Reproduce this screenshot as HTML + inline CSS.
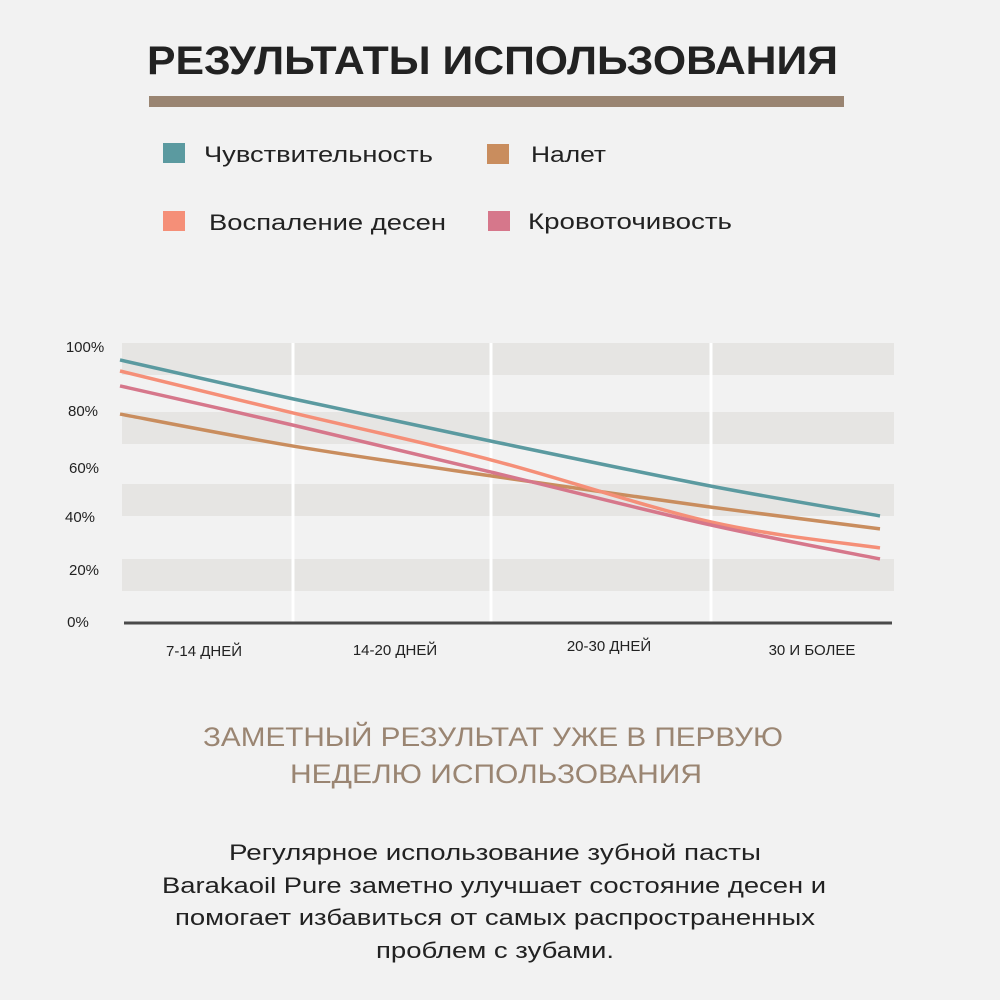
<!DOCTYPE html>
<html><head><meta charset="utf-8"><style>
html,body{margin:0;padding:0;background:#f2f2f2;}
svg{display:block;font-family:"Liberation Sans","DejaVu Sans",sans-serif;}
</style></head><body>
<svg id="chart" width="1000" height="1000" viewBox="0 0 1000 1000" xmlns="http://www.w3.org/2000/svg">
<rect x="0" y="0" width="1000" height="1000" fill="#f2f2f2"/>
<text x="147" y="74" font-size="40" font-weight="bold" fill="#222" textLength="691" lengthAdjust="spacingAndGlyphs">РЕЗУЛЬТАТЫ ИСПОЛЬЗОВАНИЯ</text>
<rect x="149" y="96" width="695" height="11" fill="#9a8572"/>
<g>
<rect x="163" y="143" width="22" height="20" fill="#5b9aa0"/>
<text x="204" y="162" font-size="22" fill="#222" textLength="229" lengthAdjust="spacingAndGlyphs">Чувствительность</text>
<rect x="487" y="144" width="22" height="20" fill="#c98d5e"/>
<text x="531" y="162" font-size="22" fill="#222" textLength="75" lengthAdjust="spacingAndGlyphs">Налет</text>
<rect x="163" y="211" width="22" height="20" fill="#f58f78"/>
<text x="209" y="230" font-size="22" fill="#222" textLength="237" lengthAdjust="spacingAndGlyphs">Воспаление десен</text>
<rect x="488" y="211" width="22" height="20" fill="#d6778b"/>
<text x="528" y="229" font-size="22" fill="#222" textLength="204" lengthAdjust="spacingAndGlyphs">Кровоточивость</text>
</g>
<g id="plot"></g>
<g fill="#9a8572" font-size="27" text-anchor="middle">
<text x="493" y="746" textLength="580" lengthAdjust="spacingAndGlyphs">ЗАМЕТНЫЙ РЕЗУЛЬТАТ УЖЕ В ПЕРВУЮ</text>
<text x="496" y="783" textLength="412" lengthAdjust="spacingAndGlyphs">НЕДЕЛЮ ИСПОЛЬЗОВАНИЯ</text>
</g>
<g fill="#222" font-size="22" text-anchor="middle">
<text x="495" y="860" textLength="532" lengthAdjust="spacingAndGlyphs">Регулярное использование зубной пасты</text>
<text x="494" y="893" textLength="664" lengthAdjust="spacingAndGlyphs">Barakaoil Pure  заметно улучшает состояние десен и</text>
<text x="495" y="925" textLength="640" lengthAdjust="spacingAndGlyphs">помогает избавиться от самых распространенных</text>
<text x="495" y="958" textLength="238" lengthAdjust="spacingAndGlyphs">проблем с зубами.</text>
</g>
</svg>
<script>
const categories = ["7-14 ДНЕЙ", "14-20 ДНЕЙ", "20-30 ДНЕЙ", "30 И БОЛЕЕ"];
const yTickLabels = ["0%", "20%", "40%", "60%", "80%", "100%"];
const sensitivity = [95.3, 81.2, 65.9, 49.6, 38.8];
const inflammation = [91.3, 76.1, 59.1, 36.6, 27.2];
const bleeding = [85.9, 71.7, 54.7, 35.5, 23.2];
const plaque = [75.7, 64.1, 53.3, 42.0, 34.1];

const NS = "http://www.w3.org/2000/svg";
const g = document.getElementById("plot");
const boundaries = [120, 293, 491, 711, 880];
function xPos(i){ return boundaries[i]; }
function yPos(v){ return 623 - v * 2.76; }
function mk(tag, attrs){ const e = document.createElementNS(NS, tag); for (const k in attrs) e.setAttribute(k, attrs[k]); g.appendChild(e); return e; }

// bands
const bandYs = [[343,375],[412,444],[484,516],[559,591]];
bandYs.forEach((b, i) => {
  const r = mk("rect", {x:122, y:b[0], width:772, height:b[1]-b[0], fill:"#e6e5e3"});
  
  
});
[293, 491, 711].forEach(x => {
  const l = mk("line", {x1:x, y1:343, x2:x, y2:624, stroke:"#ffffff", "stroke-width":3});
  
  
});
const axis = mk("line", {x1:124, y1:623, x2:892, y2:623, stroke:"#4a4a4a", "stroke-width":3});



const tickY = [622, 570, 517, 468, 411, 347];
const tickX = [78, 84, 80, 84, 83, 85];
yTickLabels.forEach((t, i) => {
  const e = mk("text", {x:tickX[i], y:tickY[i]+5, "font-size":15, fill:"#222", "text-anchor":"middle"});
  e.textContent = t;
  
  
});
const catX = [204, 395, 609, 812];
const catY = [656, 655, 651, 655];
categories.forEach((c, i) => {
  const e = mk("text", {x:catX[i], y:catY[i], "font-size":15, fill:"#222", "text-anchor":"middle"});
  e.textContent = c;
  
  
});

function curve(vals){
  const pts = vals.map((v, i) => [xPos(i), yPos(v)]);
  let d = "M" + pts[0][0] + "," + pts[0][1];
  for (let i = 0; i < pts.length - 1; i++){
    const p0 = pts[Math.max(0, i-1)], p1 = pts[i], p2 = pts[i+1], p3 = pts[Math.min(pts.length-1, i+2)];
    const c1 = [p1[0] + (p2[0]-p0[0])/6, p1[1] + (p2[1]-p0[1])/6];
    const c2 = [p2[0] - (p3[0]-p1[0])/6, p2[1] - (p3[1]-p1[1])/6];
    d += " C" + c1[0] + "," + c1[1] + " " + c2[0] + "," + c2[1] + " " + p2[0] + "," + p2[1];
  }
  return d;
}
const series = [[plaque, "#c98d5e", "line-plaque"], [sensitivity, "#5b9aa0", "line-sensitivity"], [inflammation, "#f58f78", "line-inflammation"], [bleeding, "#d6778b", "line-bleeding"]];
series.forEach(s => {
  const p = mk("path", {d:curve(s[0]), fill:"none", stroke:s[1], "stroke-width":3.5});
  
  
});
</script>
</body></html>
